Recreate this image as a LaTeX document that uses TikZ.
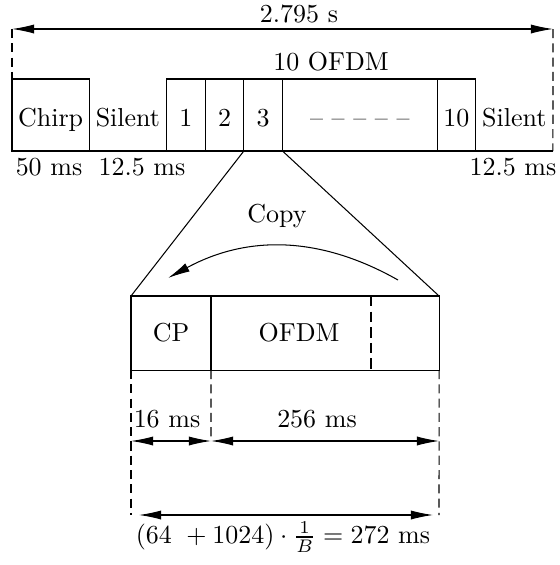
\documentclass[tikz,border=0pt]{standalone}
\usetikzlibrary{arrows.meta,positioning}
\begin{document}
\begin{tikzpicture}[
  x=0.385pt, y=-0.385pt,
  slot/.style={draw,outer sep=0pt,inner sep=0pt,minimum width=14.88pt,minimum height=27.72pt,text height=9pt,text depth=0pt},
  wide/.style={slot,minimum width=29.75pt},
  gap/.style={wide,draw=none},
  part/.style={draw,outer sep=0pt,inner sep=0pt,minimum height=28.5pt},
  dim/.style={{Latex[length=8.5pt,width=3.5pt]}-{Latex[length=8.5pt,width=3.5pt]}},
  guide/.style={dash pattern=on 3.5pt off 2pt},
]
\useasboundingbox (0,0) rectangle (559,565);

% the whole frame
\node[wide, anchor=south west] (chirp) at (12,151) {Chirp};
\node[gap, right=0pt of chirp] (silA) {Silent};
\node[slot, right=0pt of silA] (s1) {1};
\node[slot, right=0pt of s1] (s2) {2};
\node[slot, right=0pt of s2] (s3) {3};
\node[slot, minimum width=59.5pt, right=0pt of s3] (dots) {-- -- -- -- --};
\node[slot, right=0pt of dots] (s10) {10};
\node[gap, right=0pt of s10] (silB) {Silent};
\draw (chirp.south west) -- (silB.south east);

\coordinate (endL) at (12,29);
\coordinate (endR) at (553,29);
\draw[dim] (endL) -- (endR);
\draw[guide] (endL) -- (chirp.north west);
\draw[guide] (endR) -- (silB.south east);

\node (total) at (299,14) {2.795 s};
\node (count) at (331,62) {10 OFDM};
\node (chirpms) at (49,167) {50 ms};
\node (silAms) at (142,167) {12.5 ms};
\node (silBms) at (513,167) {12.5 ms};

% one symbol, enlarged
\node[part, minimum width=30.8pt, anchor=north west] (cp) at (131,296) {CP};
\node[part, minimum width=87.8pt, right=0pt of cp] (sym) {};
\node (symtxt) at ([xshift=-10pt]sym.center) {OFDM};
\coordinate (cut) at (371,296);
\draw[dash pattern=on 4pt off 2pt] (cut) -- (cut |- sym.south);

\draw (s3.south west) -- (cp.north west);
\draw (s3.south east) -- (sym.north east);

\coordinate (copyA) at (398,280);
\coordinate (copyB) at (168,278);
\draw[-{Latex[length=8.5pt,width=3.5pt]}] (copyA) to[bend right=29] (copyB);
\node (copy) at (277,216) {Copy};

% durations
\coordinate (legL) at (131,515);
\coordinate (legM) at (211,441);
\coordinate (legR) at (439,515);
\draw[guide] (cp.south west) -- (legL);
\draw[guide] (cp.south east) -- (legM);
\draw[guide] (sym.south east) -- (legR);
\draw[dim] (cp.south west |- legM) -- (legM);
\draw[dim] (legM) -- (sym.south east |- legM);
\node (cpms) at (167,419) {16 ms};
\node (bodyms) at (317,419) {256 ms};

\coordinate (symL) at (139,515);
\coordinate (symR) at (433,515);
\draw[dim] (symL) -- (symR);
\node (symms) at (283,537) {$(64\ +1024)\cdot\frac{1}{B}=272$ ms};
\end{tikzpicture}
\end{document}
